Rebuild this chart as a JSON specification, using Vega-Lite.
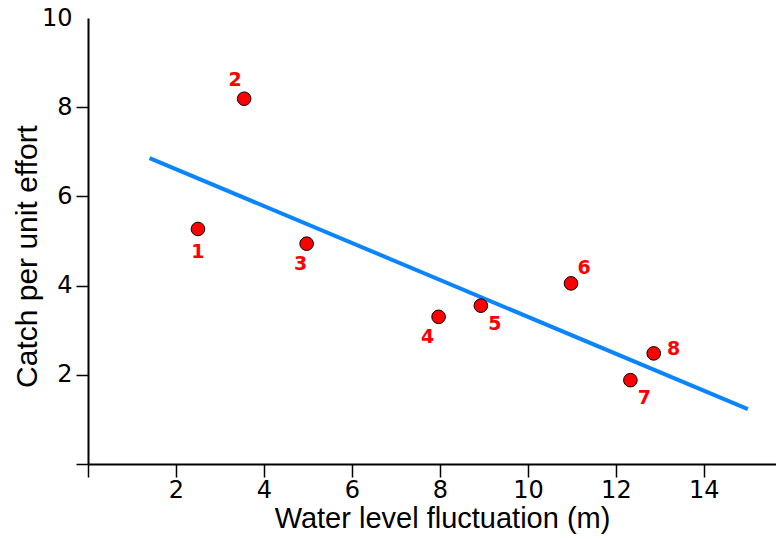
{
  "$schema": "https://vega.github.io/schema/vega-lite/v6.json",
  "width": 688,
  "height": 446,
  "autosize": {"type": "none"},
  "padding": {"left": 88, "top": 18, "right": 0, "bottom": 75},
  "background": "white",
  "datasets": {
    "pts": [
      {"site": "1", "x": 2.5, "y": 5.27},
      {"site": "2", "x": 3.55, "y": 8.19},
      {"site": "3", "x": 4.97, "y": 4.94},
      {"site": "4", "x": 7.97, "y": 3.3},
      {"site": "5", "x": 8.93, "y": 3.55},
      {"site": "6", "x": 10.98, "y": 4.05},
      {"site": "7", "x": 12.33, "y": 1.88},
      {"site": "8", "x": 12.86, "y": 2.48}
    ],
    "fit": [
      {"x": 1.4, "y": 6.86},
      {"x": 15.0, "y": 1.23}
    ]
  },
  "config": {
    "view": {"stroke": null},
    "axis": {"grid": false}
  },
  "layer": [
    {
      "mark": {"type": "rule", "color": "black", "strokeWidth": 2},
      "encoding": {
        "y": {"datum": 10, "type": "quantitative", "scale": {"domain": [0, 10], "nice": false}, "title": "Catch per unit effort"}
      }
    },
    {
      "data": {"name": "fit"},
      "mark": {"type": "line", "color": "#0a84ff", "strokeWidth": 4},
      "encoding": {
        "x": {"field": "x", "type": "quantitative", "scale": {"domain": [0, 15.64], "nice": false, "zero": false}, "title": "Water level fluctuation (m)"},
        "y": {"field": "y", "type": "quantitative", "scale": {"domain": [0, 10], "nice": false}, "title": "Catch per unit effort"}
      }
    },
    {
      "data": {"name": "pts"},
      "mark": {"type": "circle", "color": "#ff0000", "stroke": "black", "strokeWidth": 1, "size": 185, "opacity": 1},
      "encoding": {
        "x": {
          "field": "x", "type": "quantitative",
          "scale": {"domain": [0, 15.64], "nice": false, "zero": false},
          "title": "Water level fluctuation (m)",
          "axis": {
            "values": [0, 2, 4, 6, 8, 10, 12, 14],
            "labelExpr": "datum.value == 0 ? '' : datum.label",
            "domainColor": "black", "domainWidth": 2,
            "tickColor": "black", "tickWidth": 1.5, "tickSize": 13,
            "labelFont": "DejaVu Sans", "labelFontSize": 24, "labelColor": "black", "labelPadding": 1,
            "labelFlush": false, "labelOverlap": false,
            "titleFont": "Liberation Sans", "titleFontSize": 29, "titleFontWeight": "normal", "titleColor": "black",
            "titleX": 354, "titleY": 63, "titleBaseline": "alphabetic", "titleAlign": "center"
          }
        },
        "y": {
          "field": "y", "type": "quantitative",
          "scale": {"domain": [0, 10], "nice": false},
          "title": "Catch per unit effort",
          "axis": {
            "values": [0, 2, 4, 6, 8, 10],
            "labelExpr": "datum.value == 0 ? '' : datum.label",
            "domainColor": "black", "domainWidth": 2,
            "tickColor": "black", "tickWidth": 1.5, "tickSize": 12,
            "tickOpacity": {"condition": {"test": "datum.value == 10", "value": 0}, "value": 1},
            "labelFont": "DejaVu Sans", "labelFontSize": 24, "labelColor": "black", "labelPadding": 4,
            "labelFlush": false, "labelOverlap": false,
            "titleFont": "Liberation Sans", "titleFontSize": 30, "titleFontWeight": "normal", "titleColor": "black",
            "titleX": -52, "titleY": 238, "titleBaseline": "alphabetic", "titleAlign": "center", "titleAngle": -90
          }
        }
      }
    },
    {
      "data": {"name": "pts"},
      "transform": [{"filter": "datum.site == '1'"}],
      "mark": {"type": "text", "font": "DejaVu Sans", "fontSize": 19, "fontWeight": "bold", "color": "#ff0000", "baseline": "middle", "dx": 0, "dy": 23},
      "encoding": {
        "x": {"field": "x", "type": "quantitative", "title": "Water level fluctuation (m)"},
        "y": {"field": "y", "type": "quantitative", "title": "Catch per unit effort"},
        "text": {"field": "site"}
      }
    },
    {
      "data": {"name": "pts"},
      "transform": [{"filter": "datum.site == '2'"}],
      "mark": {"type": "text", "font": "DejaVu Sans", "fontSize": 19, "fontWeight": "bold", "color": "#ff0000", "baseline": "middle", "dx": -9, "dy": -19},
      "encoding": {
        "x": {"field": "x", "type": "quantitative", "title": "Water level fluctuation (m)"},
        "y": {"field": "y", "type": "quantitative", "title": "Catch per unit effort"},
        "text": {"field": "site"}
      }
    },
    {
      "data": {"name": "pts"},
      "transform": [{"filter": "datum.site == '3'"}],
      "mark": {"type": "text", "font": "DejaVu Sans", "fontSize": 19, "fontWeight": "bold", "color": "#ff0000", "baseline": "middle", "dx": -6, "dy": 20},
      "encoding": {
        "x": {"field": "x", "type": "quantitative", "title": "Water level fluctuation (m)"},
        "y": {"field": "y", "type": "quantitative", "title": "Catch per unit effort"},
        "text": {"field": "site"}
      }
    },
    {
      "data": {"name": "pts"},
      "transform": [{"filter": "datum.site == '4'"}],
      "mark": {"type": "text", "font": "DejaVu Sans", "fontSize": 19, "fontWeight": "bold", "color": "#ff0000", "baseline": "middle", "dx": -11, "dy": 20},
      "encoding": {
        "x": {"field": "x", "type": "quantitative", "title": "Water level fluctuation (m)"},
        "y": {"field": "y", "type": "quantitative", "title": "Catch per unit effort"},
        "text": {"field": "site"}
      }
    },
    {
      "data": {"name": "pts"},
      "transform": [{"filter": "datum.site == '5' || datum.site == '7'"}],
      "mark": {"type": "text", "font": "DejaVu Sans", "fontSize": 19, "fontWeight": "bold", "color": "#ff0000", "baseline": "middle", "dx": 14, "dy": 18},
      "encoding": {
        "x": {"field": "x", "type": "quantitative", "title": "Water level fluctuation (m)"},
        "y": {"field": "y", "type": "quantitative", "title": "Catch per unit effort"},
        "text": {"field": "site"}
      }
    },
    {
      "data": {"name": "pts"},
      "transform": [{"filter": "datum.site == '6'"}],
      "mark": {"type": "text", "font": "DejaVu Sans", "fontSize": 19, "fontWeight": "bold", "color": "#ff0000", "baseline": "middle", "dx": 13, "dy": -15},
      "encoding": {
        "x": {"field": "x", "type": "quantitative", "title": "Water level fluctuation (m)"},
        "y": {"field": "y", "type": "quantitative", "title": "Catch per unit effort"},
        "text": {"field": "site"}
      }
    },
    {
      "data": {"name": "pts"},
      "transform": [{"filter": "datum.site == '8'"}],
      "mark": {"type": "text", "font": "DejaVu Sans", "fontSize": 19, "fontWeight": "bold", "color": "#ff0000", "baseline": "middle", "dx": 20, "dy": -4},
      "encoding": {
        "x": {"field": "x", "type": "quantitative", "title": "Water level fluctuation (m)"},
        "y": {"field": "y", "type": "quantitative", "title": "Catch per unit effort"},
        "text": {"field": "site"}
      }
    }
  ]
}
